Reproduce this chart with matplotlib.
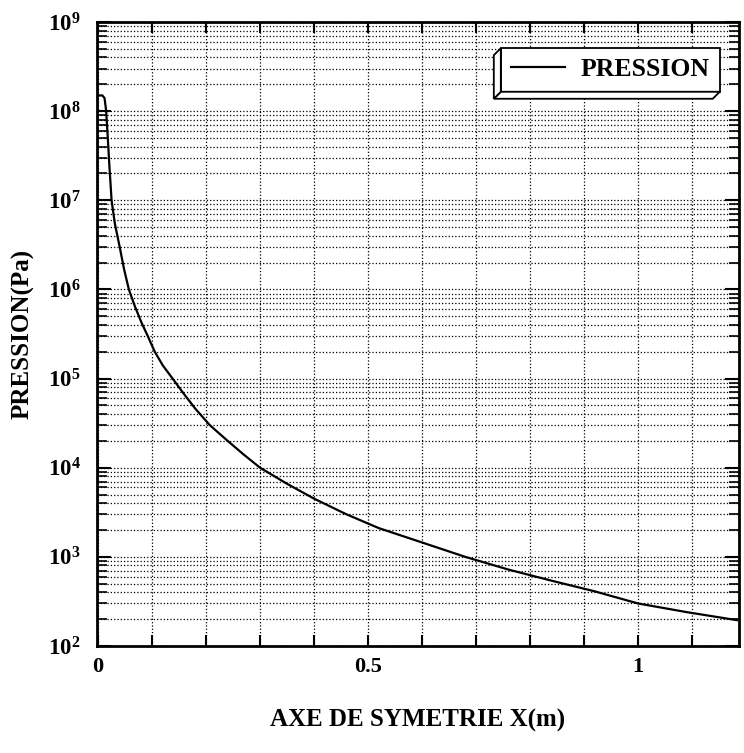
import matplotlib
matplotlib.use("Agg")
import matplotlib.pyplot as plt
import numpy as np
from matplotlib.ticker import FixedLocator, FuncFormatter, LogLocator, NullFormatter
from matplotlib.patches import Polygon

# values
x_m = [0.0, 0.008, 0.012, 0.015, 0.018, 0.021, 0.025, 0.031, 0.040, 0.048, 0.057,
       0.068, 0.080, 0.092, 0.105, 0.12, 0.138, 0.16, 0.18, 0.207, 0.24, 0.27,
       0.30, 0.35, 0.40, 0.46, 0.52, 0.60, 0.68, 0.76, 0.84, 0.92, 1.0, 1.09, 1.183]
pression = [1.5e8, 1.5e8, 1.4e8, 1.0e8, 5.0e7, 2.4e7, 1.0e7, 5.5e6, 3.0e6, 1.7e6, 1.0e6,
            6.5e5, 4.3e5, 3.0e5, 2.0e5, 1.4e5, 1.0e5, 6.6e4, 4.6e4, 3.0e4, 2.0e4, 1.4e4,
            1.0e4, 6.6e3, 4.5e3, 3.0e3, 2.1e3, 1.45e3, 1.0e3, 720, 540, 410, 300, 240, 195]
x_ticks = [0.0, 0.1, 0.2, 0.3, 0.4, 0.5, 0.6, 0.7, 0.8, 0.9, 1.0, 1.1]
x_ticklabels = {0.0: "0", 0.5: "0.5", 1.0: "1"}

plt.rcParams["font.family"] = ["Liberation Serif", "DejaVu Serif"]
plt.rcParams["font.weight"] = "bold"
plt.rcParams["mathtext.fontset"] = "custom"
plt.rcParams["mathtext.rm"] = "Liberation Serif:bold"
plt.rcParams["mathtext.it"] = "Liberation Serif:bold"
plt.rcParams["mathtext.bf"] = "Liberation Serif:bold"

W, H = 744, 753
fig = plt.figure(figsize=(W / 100, H / 100), dpi=100)
ax = fig.add_axes([97 / W, 1 - 646 / H, 642 / W, 624 / H])

ax.plot(x_m, pression, color="black", linewidth=1.6, label="PRESSION")

ax.set_yscale("log")
ax.set_ylim(1e2, 1e9)
ax.set_xlim(-0.002, 1.187)

ax.xaxis.set_major_locator(FixedLocator(x_ticks))
ax.xaxis.set_major_formatter(FuncFormatter(
    lambda v, p: x_ticklabels.get(round(v, 2), "")))
ax.yaxis.set_major_locator(LogLocator(base=10, numticks=20))
ax.yaxis.set_minor_locator(LogLocator(base=10, subs=np.arange(2, 10), numticks=20))
ax.yaxis.set_minor_formatter(NullFormatter())
ax.yaxis.set_major_formatter(FuncFormatter(
    lambda v, p: r"$\mathrm{10^{%d}}$" % round(np.log10(v))))

ax.tick_params(axis="x", which="major", direction="in", top=True, length=8,
               width=1.5, labelsize=16, pad=8)
ax.tick_params(axis="y", which="major", direction="in", right=True, length=10,
               width=1.5, labelsize=16.5, pad=12)
ax.tick_params(axis="y", which="minor", direction="in", right=True, length=7,
               width=1.2)

ax.grid(True, which="major", axis="x", linestyle=":", color="black", linewidth=0.9)
ax.grid(True, which="both", axis="y", linestyle=":", color="black", linewidth=0.9)

for s in ax.spines.values():
    s.set_linewidth(2)

fig.text(23 / W, 1 - 334 / H, "PRESSION(Pa)", rotation=90, ha="center",
         va="center", fontsize=18, fontweight="bold")
fig.text(418 / W, 1 - 720 / H, "AXE DE SYMETRIE X(m)", ha="center",
         va="center", fontsize=18, fontweight="bold")

leg = ax.legend(loc="upper right", bbox_to_anchor=(0.970, 0.958),
                borderaxespad=0, fancybox=False, framealpha=1,
                edgecolor="black", handlelength=2.1,
                handletextpad=0.6, borderpad=0.4,
                prop={"weight": "bold", "size": 18.5})
leg.get_frame().set_linewidth(1.3)
leg.set_zorder(6)

# 3D bevel under the legend box, towards lower left
fig.canvas.draw()
bb = leg.get_frame().get_window_extent()
d = 7
inv = fig.transFigure.inverted()
x0, y0, x1, y1 = bb.x0, bb.y0, bb.x1, bb.y1
bottom = [(x0, y0), (x1, y0), (x1 - d, y0 - d), (x0 - d, y0 - d)]
left = [(x0, y1), (x0, y0), (x0 - d, y0 - d), (x0 - d, y1 - d)]
for pts in (bottom, left):
    poly = Polygon(inv.transform(pts), closed=True, facecolor="white",
                   edgecolor="black", linewidth=1.3, transform=fig.transFigure,
                   zorder=6)
    fig.patches.append(poly)

fig.savefig("out.png", dpi=100)
